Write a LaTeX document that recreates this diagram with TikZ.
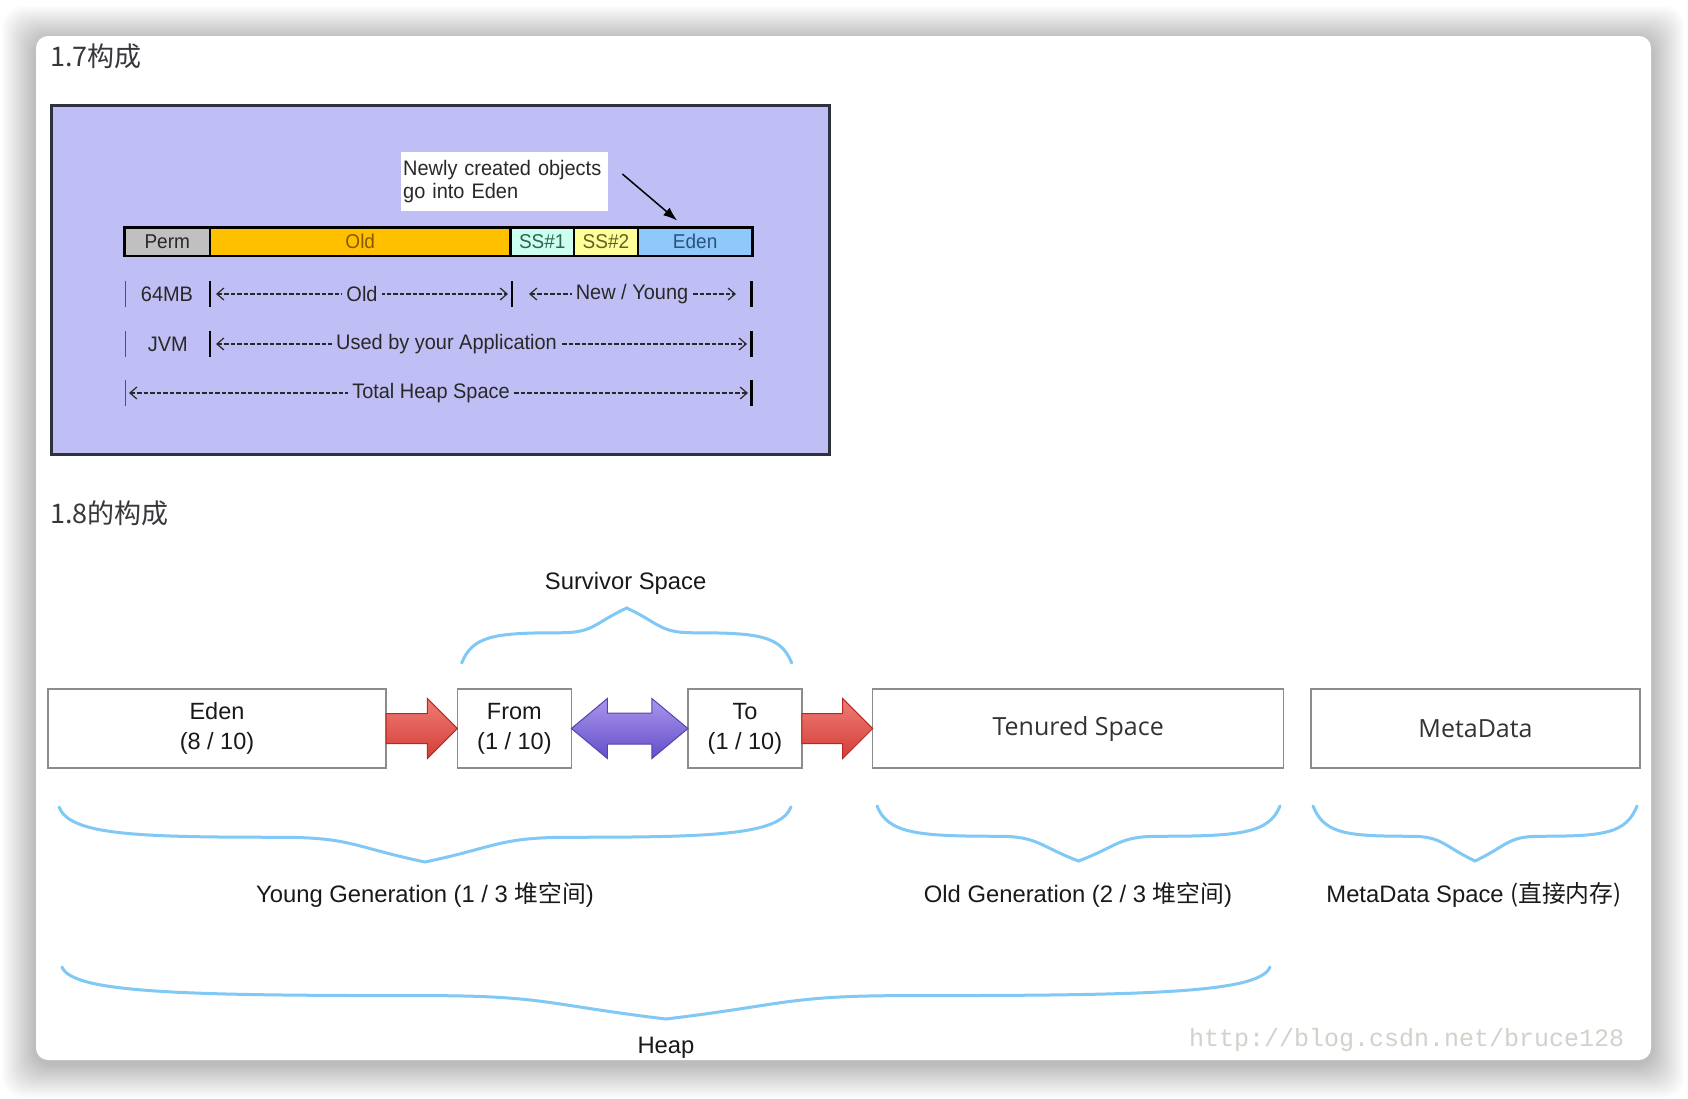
\documentclass[tikz,border=0pt]{standalone}
\usepackage{fontspec}
\setmainfont{Liberation Sans}
\newfontfamily\cjk{Noto Sans CJK SC}
\newfontfamily\narrowsans[FakeStretch=0.95]{Liberation Sans}
\newfontfamily\labelsans{Open Sans}
\newfontfamily\stampfont{Liberation Mono}
\usepackage{xcolor}
\usepackage{tikz}
\usetikzlibrary{
    arrows.meta,
    positioning,
    calc
}
\definecolor{lavender}{RGB}{191,191,245}
\definecolor{frameline}{RGB}{45,50,60}
\definecolor{permgray}{RGB}{192,192,192}
\definecolor{oldorange}{RGB}{255,192,0}
\definecolor{oldtext}{RGB}{135,88,0}
\definecolor{ssone}{RGB}{204,255,240}
\definecolor{sstwo}{RGB}{255,255,153}
\definecolor{edenblue}{RGB}{143,200,250}
\definecolor{sstext}{RGB}{47,100,80}
\definecolor{edentext}{RGB}{45,80,130}
\definecolor{inkgray}{RGB}{40,40,40}
\definecolor{boxgray}{RGB}{140,140,140}
\definecolor{braceblue}{RGB}{128,200,245}
\definecolor{redtop}{RGB}{238,125,118}
\definecolor{redbottom}{RGB}{212,62,55}
\definecolor{redline}{RGB}{185,40,35}
\definecolor{violettop}{RGB}{170,150,238}
\definecolor{violetbottom}{RGB}{100,78,200}
\definecolor{violetline}{RGB}{88,68,175}
\definecolor{stampgray}{RGB}{212,208,202}
\definecolor{headgray}{RGB}{55,55,60}
\tikzset{
    heading/.style={
        font=\cjk\fontsize{27}{32}\selectfont,
        text=headgray,
        inner sep=0pt
    }
}
\tikzset{
    oldframe/.style={
        draw=frameline,
        line width=3pt,
        fill=lavender
    }
}
\tikzset{
    segment/.style={
        draw=black,
        line width=2.5pt,
        minimum height=28.5pt,
        inner sep=0pt,
        outer sep=0pt,
        text=inkgray,
        font=\narrowsans\fontsize{20}{24}\selectfont
    }
}
\tikzset{
    notebox/.style={
        fill=white,
        text width=203pt,
        minimum height=59pt,
        inner xsep=2pt,
        align=left,
        text=inkgray,
        font=\narrowsans\fontsize{21}{23}\selectfont
    }
}
\tikzset{
    rowtext/.style={
        text=inkgray,
        inner sep=0pt,
        font=\narrowsans\fontsize{21}{24}\selectfont
    }
}
\tikzset{
    rowlabel/.style={
        rowtext,
        fill=lavender,
        inner xsep=4pt,
        inner ysep=1pt
    }
}
\tikzset{
    tick/.style={
        draw=black,
        line width=2.5pt
    }
}
\tikzset{
    lighttick/.style={
        draw=inkgray!80,
        line width=1.5pt
    }
}
\tikzset{
    dasharrow/.style={
        draw=inkgray,
        line width=1.2pt,
        dash pattern=on 4.5pt off 2pt,
        {Straight Barb[length=7pt,width=12pt]}-{Straight Barb[length=7pt,width=12pt]}
    }
}
\tikzset{
    notearrow/.style={
        draw=black,
        line width=1.5pt,
        -{Latex[length=14pt,width=10pt]}
    }
}
\tikzset{
    heapbox/.style={
        draw=boxgray,
        line width=1.5pt,
        fill=white,
        minimum height=79pt,
        outer sep=0pt,
        align=center,
        text=black!90,
        font=\fontsize{23.5}{30}\selectfont
    }
}
\tikzset{
    plainbox/.style={
        heapbox,
        text=black!80,
        font=\labelsans\fontsize{25}{30}\selectfont
    }
}
\tikzset{
    redarrow/.style={
        draw=redline,
        line width=1pt,
        top color=redtop,
        bottom color=redbottom
    }
}
\tikzset{
    swaparrow/.style={
        draw=violetline,
        line width=1pt,
        top color=violettop,
        bottom color=violetbottom
    }
}
\tikzset{
    bracket/.style={
        draw=braceblue,
        line width=3pt,
        line cap=round
    }
}
\tikzset{
    bracelabel/.style={
        text=black!90,
        inner sep=0pt,
        font=\fontsize{23.8}{28}\selectfont
    }
}
\tikzset{
    stamp/.style={
        text=stampgray,
        inner sep=0pt,
        font=\stampfont\fontsize{25}{30}\selectfont
    }
}
% left x, right x, end y, depth
\newcommand{\curlybrace}[4]{%
    \pgfmathsetmacro{\braceW}{#2-#1}%
    \pgfmathsetmacro{\braceM}{(#1+#2)/2}%
    \draw[bracket] (#1,#3)
        .. controls ({#1+0.2*abs(#4)},{#3+0.5*(#4)}) and ({#1+0.1*\braceW},{#3+0.55*(#4)}) .. ({#1+0.3*\braceW},{#3+0.55*(#4)})
        .. controls ({#1+0.4*\braceW},{#3+0.55*(#4)}) and ({\braceM-0.1*\braceW},{#3+0.72*(#4)}) .. ({\braceM},{#3+(#4)})
        .. controls ({\braceM+0.1*\braceW},{#3+0.72*(#4)}) and ({#2-0.4*\braceW},{#3+0.55*(#4)}) .. ({#2-0.3*\braceW},{#3+0.55*(#4)})
        .. controls ({#2-0.1*\braceW},{#3+0.55*(#4)}) and ({#2-0.2*abs(#4)},{#3+0.5*(#4)}) .. (#2,#3);
}

\begin{document}
\begin{tikzpicture}[x=1pt, y=-1pt, >=Latex]
\useasboundingbox (0,0) rectangle (1688,1098);

% card and its shadow
\foreach \i in {1,...,34}
    \fill[black, opacity=0.006, rounded corners=20pt]
        (36-\i,40-\i) rectangle (1651+\i,1064+\i);
\fill[white, rounded corners=12pt] (36,36) rectangle (1651,1060);

\node[heading, anchor=west] (title17) at (50,56) {1.7构成};
\node[heading, anchor=west] (title18) at (50,513) {1.8的构成};

% 1.7
\node[oldframe, minimum width=778.5pt, minimum height=348.6pt,
    anchor=north west] (frame) at (49.5,104.4) {};

\node[notebox, anchor=north west] (note) at (401,152)
    {Newly created objects\\go into Eden};

\node[segment, fill=permgray, minimum width=85.7pt, anchor=west] (perm)
    at (124.4,241.8) {Perm};
\node[segment, fill=oldorange, text=oldtext, minimum width=300.3pt,
    right=0pt of perm] (old) {Old};
\node[segment, fill=ssone, text=sstext, minimum width=63.7pt,
    right=0pt of old] (ss1) {SS\#1};
\node[segment, fill=sstwo, text=olive!60!black, minimum width=63.7pt,
    right=0pt of ss1] (ss2) {SS\#2};
\node[segment, fill=edenblue, text=edentext, minimum width=114.7pt,
    right=0pt of ss2] (edenseg) {Eden};

\draw[notearrow] ($(note.north east)+(14,22)$) -- ($(edenseg.north)+(-18,-7)$);

\draw[lighttick] (125.6,281) -- (125.6,307);
\node[rowtext] (mb) at (167,294) {64MB};
\draw[tick] (210.1,281) -- (210.1,307);
\draw[dasharrow] (216,294) -- (508,294);
\node[rowlabel] (oldrow) at (362,294) {Old};
\draw[tick] (512,281) -- (512,307);
\draw[dasharrow] (529,294) -- (736,294);
\node[rowlabel] (youngrow) at (632,294) {New / Young};
\draw[tick] (751.5,281) -- (751.5,307);

\draw[lighttick] (125.6,331) -- (125.6,357);
\node[rowtext] (jvm) at (167.8,344) {JVM};
\draw[tick] (210.1,331) -- (210.1,357);
\draw[dasharrow] (216,344) -- (747,344);
\node[rowlabel] (approw) at (446.5,344) {Used by your Application};
\draw[tick] (751.5,331) -- (751.5,357);

\draw[lighttick] (125.6,380) -- (125.6,406);
\draw[dasharrow] (129,393) -- (748,393);
\node[rowlabel] (totalrow) at (431,393) {Total Heap Space};
\draw[tick] (751.5,380) -- (751.5,406);

% 1.8
\node[heapbox, minimum width=338pt, anchor=west] (eden) at (48,728.5)
    {Eden\\(8 / 10)};
\node[heapbox, minimum width=114pt, right=71.4pt of eden] (from)
    {From\\(1 / 10)};
\node[heapbox, minimum width=114pt, right=116.5pt of from] (to)
    {To\\(1 / 10)};
\node[plainbox, minimum width=411pt, right=70.8pt of to] (tenured)
    {Tenured Space};
\node[plainbox, minimum width=329pt, right=27.3pt of tenured] (metadata)
    {MetaData};

\path[redarrow] ($(eden.east)+(0,-15)$) -- ($(from.west)+(-30,-15)$)
    -- ($(from.west)+(-30,-30)$) -- (from.west) -- ($(from.west)+(-30,30)$)
    -- ($(from.west)+(-30,15)$) -- ($(eden.east)+(0,15)$) -- cycle;
\path[swaparrow] (from.east) -- ($(from.east)+(36,-30)$)
    -- ($(from.east)+(36,-15.5)$) -- ($(to.west)+(-36,-15.5)$)
    -- ($(to.west)+(-36,-30)$) -- (to.west) -- ($(to.west)+(-36,30)$)
    -- ($(to.west)+(-36,15.5)$) -- ($(from.east)+(36,15.5)$)
    -- ($(from.east)+(36,30)$) -- cycle;
\path[redarrow] ($(to.east)+(0,-15)$) -- ($(tenured.west)+(-30,-15)$)
    -- ($(tenured.west)+(-30,-30)$) -- (tenured.west) -- ($(tenured.west)+(-30,30)$)
    -- ($(tenured.west)+(-30,15)$) -- ($(to.east)+(0,15)$) -- cycle;

\curlybrace{461.7}{791.7}{663}{-55}
\curlybrace{59}{791}{807}{55}
\curlybrace{877}{1280}{806}{55}
\curlybrace{1313}{1637}{806}{55}
\curlybrace{62}{1270}{967}{52}

\node[bracelabel] (survivor) at (625.6,583) {Survivor Space};
\node[bracelabel] (younggen) at (425,895)
    {Young Generation (1 / 3 {\cjk 堆空间})};
\node[bracelabel] (oldgen) at (1078,895)
    {Old Generation (2 / 3 {\cjk 堆空间})};
\node[bracelabel] (metaspace) at (1474,895)
    {MetaData Space {\cjk (直接内存)}};
\node[bracelabel] (heap) at (666,1048) {Heap};

\node[stamp, anchor=west] (watermark) at (1189,1040)
    {http://blog.csdn.net/bruce128};

\end{tikzpicture}
\end{document}
